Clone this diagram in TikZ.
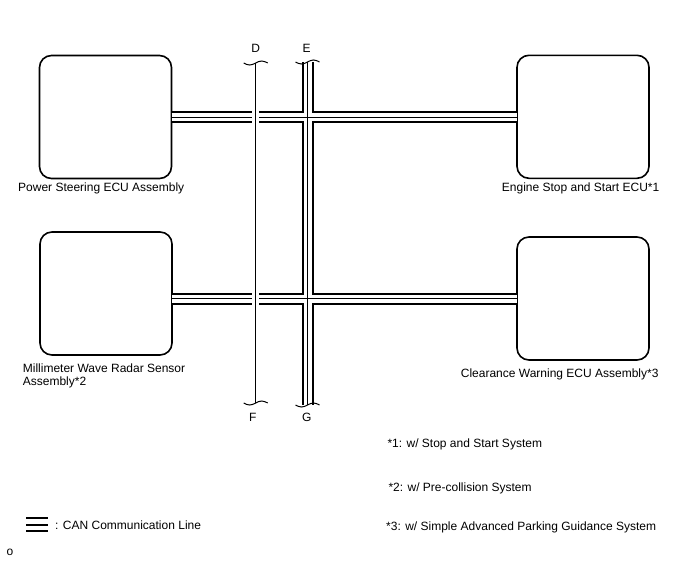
\documentclass[tikz,border=0pt]{standalone}
\usepackage{fontspec}
\setmainfont{Liberation Sans}
\begin{document}
\begin{tikzpicture}[x=1pt,y=-1pt,
  ecu/.style={draw,line width=1.6pt,rounded corners=12pt,minimum width=132pt,minimum height=123pt,inner sep=0pt,outer sep=0pt},
  lbl/.style={anchor=base west,inner sep=0pt,font=\fontsize{12}{13}\selectfont},
  letter/.style={anchor=base,inner sep=0pt,font=\fontsize{12}{13}\selectfont},
  busout/.style={line width=12pt,black},
  busin/.style={line width=8pt,white},
  buscore/.style={line width=1pt,black},
  wave/.style={line width=1pt}]
\useasboundingbox (0,0) rectangle (688,560);
% ECUs
\node[ecu] (ps) at (105.5,117) {};
\node[ecu] (eng) at (583,116.8) {};
\node[ecu] (mm) at (106,293.5) {};
\node[ecu] (cw) at (583,298.5) {};
% bus end points
\coordinate (Etop) at (307.5,62);
\coordinate (Ebot) at (307.5,405);
\coordinate (Dtop) at (255.7,63);
\coordinate (Dbot) at (255.7,403);
% CAN bus layers
\draw[busout] (ps.east) -- (eng.west |- ps.east);
\draw[busout] (mm.east |- cw.west) -- (cw.west);
\draw[busout] (Etop) -- (Ebot);
\draw[busin] (ps.east) -- (eng.west |- ps.east);
\draw[busin] (mm.east |- cw.west) -- (cw.west);
\draw[busin] (Etop) -- (Ebot);
\draw[buscore] (ps.east) -- (eng.west |- ps.east);
\draw[buscore] (mm.east |- cw.west) -- (cw.west);
\draw[buscore] (Etop) -- (Ebot);
% D-F line crossing over the buses
\draw[line width=6.5pt,white] (Dtop) -- (Dbot);
\draw[line width=1.2pt] (Dtop) -- (Dbot);
% wavy break marks
\draw[wave] ([xshift=-12pt]Dtop) sin ([xshift=-6pt,yshift=-2pt]Dtop) cos (Dtop) sin ([xshift=6pt,yshift=2pt]Dtop) cos ([xshift=12pt]Dtop);
\draw[wave] ([xshift=-12pt]Etop) sin ([xshift=-6pt,yshift=-2pt]Etop) cos (Etop) sin ([xshift=6pt,yshift=2pt]Etop) cos ([xshift=12pt]Etop);
\draw[wave] ([xshift=-12pt]Dbot) sin ([xshift=-6pt,yshift=-2pt]Dbot) cos (Dbot) sin ([xshift=6pt,yshift=2pt]Dbot) cos ([xshift=12pt]Dbot);
\draw[wave] ([xshift=-12pt]Ebot) sin ([xshift=-6pt,yshift=-2pt]Ebot) cos (Ebot) sin ([xshift=6pt,yshift=2pt]Ebot) cos ([xshift=12pt]Ebot);
% line letters
\node[letter] (lD) at (255.7,52) {D};
\node[letter] (lE) at (306.7,52) {E};
\node[letter] (lF) at (252.7,421) {F};
\node[letter] (lG) at (306.7,421) {G};
% ECU labels
\node[lbl] (tps) at (18,191) {Power Steering ECU Assembly};
\node[lbl] (teng) at (501.7,191) {Engine Stop and Start ECU*1};
\node[lbl] (tmm1) at (22.7,372.5) {Millimeter Wave Radar Sensor};
\node[lbl] (tmm2) at (22.7,385.5) {Assembly*2};
\node[lbl] (tcw) at (460.7,377) {Clearance Warning ECU Assembly*3};
% footnotes
\node[lbl] (n1) at (387.3,447.5) {*1: w/ Stop and Start System};
\node[lbl] (n2) at (388.3,491) {*2: w/ Pre-collision System};
\node[lbl] (n3) at (386,530) {*3: w/ Simple Advanced Parking Guidance System};
% legend
\coordinate (lg1) at (26,518.3);
\coordinate (lg2) at (48.3,518.3);
\coordinate (lg3) at (26,524.8);
\coordinate (lg4) at (48.3,524.8);
\coordinate (lg5) at (26,531.3);
\coordinate (lg6) at (48.3,531.3);
\draw[line width=2pt] (lg1) -- (lg2);
\draw[line width=2pt] (lg3) -- (lg4);
\draw[line width=2pt] (lg5) -- (lg6);
\node[lbl] (tleg) at (55,529.5) {: CAN Communication Line};
\node[lbl] (tid) at (6.5,555) {o};
\end{tikzpicture}
\end{document}
